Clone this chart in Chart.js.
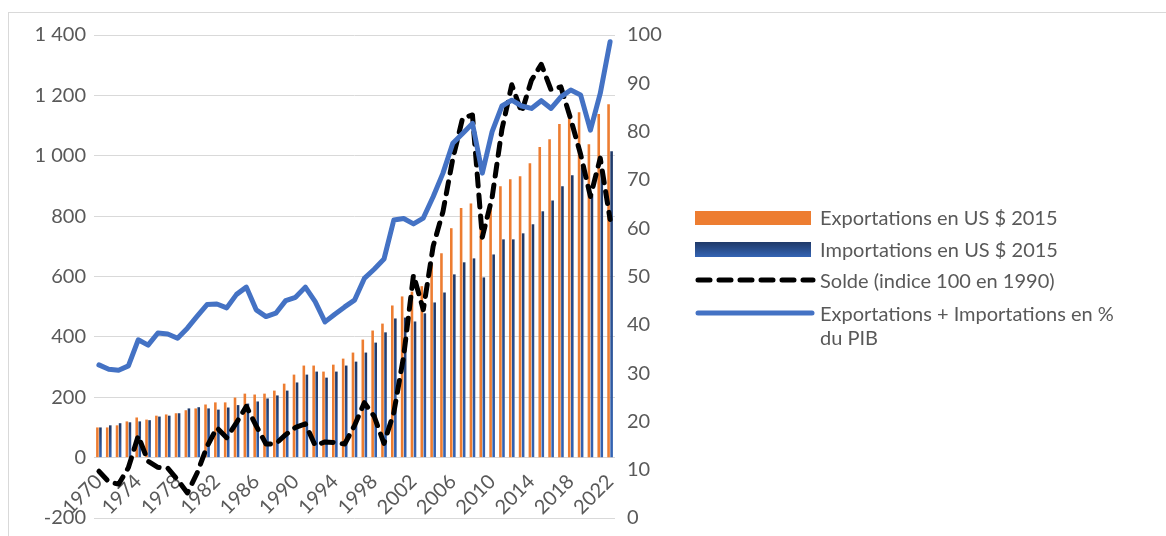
<!DOCTYPE html>
<html lang="fr">
<head>
<meta charset="utf-8">
<script src="https://cdn.jsdelivr.net/npm/chart.js@4.4.1/dist/chart.umd.min.js"></script>
<style>
  html, body { margin: 0; padding: 0; background: #fff; overflow: hidden; }
  body { width: 1166px; height: 536px; position: relative; font-family: Lato, "Open Sans", sans-serif; }
  #frame { position: absolute; left: 8px; top: 12px; width: 1200px; height: 600px; border: 1px solid #d9d9d9; }
  #chartContainer { position: absolute; left: 0; top: 0; }
  .legend-item { position: absolute; left: 695px; width: 470px; height: 24px; }
  .legend-key { position: absolute; left: 0; }
  .legend-text { position: absolute; left: 125px; color: #595959; font-size: 20px; line-height: 24px; white-space: nowrap; }
</style>
</head>
<body>
<div id="frame"></div>
<canvas id="chartContainer" width="1166" height="536"></canvas>
<div id="legend"></div>
<script>
// Years on the category axis
const years = [];
for (let y = 1970; y <= 2022; y++) years.push(String(y));

// Exportations en US $ 2015 (left axis)
const exportsUsd = [
  100, 100, 107, 120, 133, 126, 139, 143, 147, 157,
  163, 176, 183, 183, 199, 212, 209, 212, 222, 245,
  275, 305, 305, 285, 308, 328, 348, 391, 421, 444,
  504, 534, 550, 568, 640, 677, 760, 827, 842, 775,
  826, 899, 922, 932, 975, 1029, 1055, 1105, 1132, 1144,
  1038, 1138, 1171
];

// Importations en US $ 2015 (left axis)
const importsUsd = [
  100, 107, 114, 117, 120, 124, 136, 139, 147, 163,
  167, 163, 159, 166, 174, 179, 186, 196, 206, 222,
  249, 275, 285, 265, 285, 305, 318, 348, 381, 415,
  461, 464, 451, 478, 514, 547, 607, 647, 660, 597,
  673, 723, 723, 743, 773, 816, 852, 899, 935, 962,
  867, 955, 1015
];

// Solde, indice 100 en 1990 (left axis)
const balanceIndex = [
  -45, -80, -88, -33, 72, -12, -32, -35, -73, -117,
  -50, 37, 99, 66, 116, 170, 105, 45, 46, 76,
  100, 112, 40, 52, 50, 45, 106, 182, 137, 47,
  149, 336, 605, 490, 700, 815, 990, 1125, 1135, 730,
  862, 1088, 1235, 1144, 1250, 1303, 1218, 1228, 1121, 1005,
  865, 992, 789
];

// Exportations + Importations en % du PIB (right axis)
const tradeShareGdp = [
  31.7, 30.8, 30.6, 31.5, 36.9, 35.8, 38.3, 38.1, 37.2, 39.3,
  41.8, 44.2, 44.3, 43.5, 46.3, 47.8, 43.1, 41.7, 42.4, 45.0,
  45.7, 47.8, 44.8, 40.6, 42.2, 43.7, 45.1, 49.6, 51.5, 53.6,
  61.7, 62.0, 60.9, 62.1, 66.5, 71.4, 77.6, 79.6, 81.7, 71.4,
  80.0, 85.3, 86.5, 85.3, 84.8, 86.4, 84.8, 87.2, 88.6, 87.6,
  80.3, 87.9, 98.6
];

const leftTicks = [-200, 0, 200, 400, 600, 800, 1000, 1200, 1400];
const rightTicks = [0, 10, 20, 30, 40, 50, 60, 70, 80, 90, 100];

const seriesLabels = [
  'Exportations en US $ 2015',
  'Importations en US $ 2015',
  'Solde (indice 100 en 1990)',
  'Exportations + Importations en % du PIB'
];

const ORANGE = '#ed7d31';
const NAVY_TOP = '#1f3968';
const NAVY_BOTTOM = '#3464b4';
const LINE_BLUE = '#4472c4';
const TEXT_GREY = '#595959';
const FONT = "Lato, 'Open Sans', sans-serif";

Chart.defaults.font.family = FONT;
Chart.defaults.font.size = 20;
Chart.defaults.color = TEXT_GREY;

// gradient for each import bar, dark at the top
function importGradient(context) {
    const chart = context.chart;
    if (!chart.chartArea || context.type !== 'data' || !context.parsed) return NAVY_BOTTOM;
    const yScale = chart.scales.y;
    const top = yScale.getPixelForValue(context.parsed.y);
    const base = yScale.getPixelForValue(0);
    if (!isFinite(top) || Math.abs(base - top) < 1) return NAVY_BOTTOM;
    const g = chart.ctx.createLinearGradient(0, top, 0, base);
    g.addColorStop(0, NAVY_TOP);
    g.addColorStop(1, NAVY_BOTTOM);
    return g;
}

function formatThousands(v) {
    return String(v).replace(/\B(?=(\d{3})+(?!\d))/g, ' ');
}

// fixed axis width, and no extra vertical room for the end labels
function fixVerticalAxis(width) {
    return (scale) => {
        scale.width = width;
        scale.paddingTop = 12;
        scale.paddingBottom = 12;
    };
}

const ctx = document.getElementById('chartContainer').getContext('2d');
const tradeChart = new Chart(ctx, {
    type: 'bar',
    data: {
        labels: years,
        datasets: [
            {
                type: 'line',
                label: seriesLabels[3],
                data: tradeShareGdp,
                yAxisID: 'y1',
                borderColor: LINE_BLUE,
                borderWidth: 5,
                borderCapStyle: 'round',
                borderJoinStyle: 'round',
                pointRadius: 0,
                tension: 0,
                fill: false,
                order: 0
            },
            {
                type: 'line',
                label: seriesLabels[2],
                data: balanceIndex,
                yAxisID: 'y',
                borderColor: '#000',
                borderWidth: 5,
                borderDash: [12, 9],
                borderCapStyle: 'round',
                borderJoinStyle: 'round',
                pointRadius: 0,
                tension: 0,
                fill: false,
                order: 1
            },
            {
                label: seriesLabels[0],
                data: exportsUsd,
                yAxisID: 'y',
                backgroundColor: ORANGE,
                categoryPercentage: 0.62,
                barPercentage: 0.85,
                order: 2
            },
            {
                label: seriesLabels[1],
                data: importsUsd,
                yAxisID: 'y',
                backgroundColor: importGradient,
                categoryPercentage: 0.62,
                barPercentage: 0.85,
                order: 3
            }
        ]
    },
    options: {
        responsive: false,
        animation: false,
        devicePixelRatio: 1,
        layout: { padding: { left: 8, right: 491, top: 35, bottom: 18 } },
        plugins: {
            legend: { display: false },
            tooltip: { enabled: false }
        },
        scales: {
            x: {
                position: { y: 0 },
                grid: { display: false },
                border: { display: false },
                ticks: {
                    autoSkip: false,
                    minRotation: 45,
                    maxRotation: 45,
                    padding: 4,
                    color: TEXT_GREY,
                    callback: function(value, index) {
                        const year = Number(years[index]);
                        return (year - 1970) % 4 === 0 ? years[index] : '';
                    }
                },
                afterFit: (scale) => { scale.height = 0; }
            },
            y: {
                position: 'left',
                min: leftTicks[0],
                max: leftTicks[leftTicks.length - 1],
                afterBuildTicks: (scale) => { scale.ticks = leftTicks.map(v => ({ value: v })); },
                grid: { color: '#d9d9d9', lineWidth: 1, drawTicks: false },
                border: { display: false },
                ticks: {
                    padding: 8,
                    color: TEXT_GREY,
                    callback: (v) => formatThousands(v)
                },
                afterFit: fixVerticalAxis(86)
            },
            y1: {
                position: 'right',
                min: rightTicks[0],
                max: rightTicks[rightTicks.length - 1],
                afterBuildTicks: (scale) => { scale.ticks = rightTicks.map(v => ({ value: v })); },
                grid: { display: false, drawTicks: false },
                border: { display: false },
                ticks: { padding: 12, color: TEXT_GREY },
                afterFit: fixVerticalAxis(60)
            }
        }
    }
});

// HTML legend to the right of the plot
function buildLegend() {
    const legend = document.getElementById('legend');
    const rows = [
        { top: 205, key: '<div class="legend-key" style="top:6px;width:116px;height:14px;background:' + ORANGE + '"></div>', text: seriesLabels[0] },
        { top: 237, key: '<div class="legend-key" style="top:5px;width:116px;height:15px;background:linear-gradient(' + NAVY_TOP + ',' + NAVY_BOTTOM + ')"></div>', text: seriesLabels[1] },
        { top: 268, key: '<svg class="legend-key" style="top:0" width="122" height="24"><line x1="3" y1="12" x2="118" y2="12" stroke="#000" stroke-width="5" stroke-linecap="round" stroke-dasharray="12 9"/></svg>', text: seriesLabels[2] },
        { top: 301, key: '<svg class="legend-key" style="top:0" width="122" height="24"><line x1="3" y1="12" x2="117" y2="12" stroke="' + LINE_BLUE + '" stroke-width="5" stroke-linecap="round"/></svg>', text: 'Exportations + Importations en %<br>du PIB' }
    ];
    rows.forEach(r => {
        const div = document.createElement('div');
        div.className = 'legend-item';
        div.style.top = r.top + 'px';
        div.innerHTML = r.key + '<div class="legend-text" style="top:0">' + r.text + '</div>';
        legend.appendChild(div);
    });
}
buildLegend();
</script>
</body>
</html>
